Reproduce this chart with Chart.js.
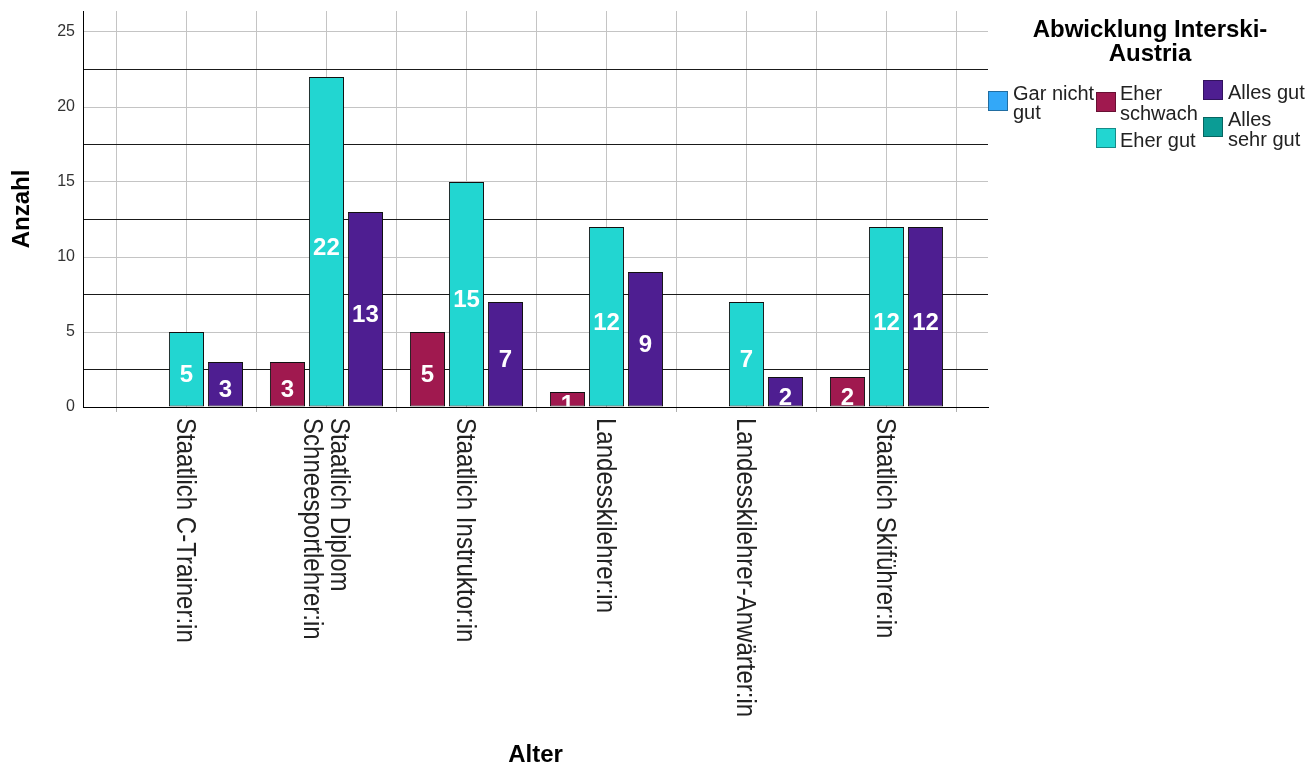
<!doctype html>
<html lang="de">
<head>
  <meta charset="utf-8">
  <title>Abwicklung Interski-Austria nach Ausbildung</title>
  <script src="https://cdn.jsdelivr.net/npm/chart.js@4.4.1/dist/chart.umd.min.js"></script>
  <style>
    html,body{margin:0;padding:0;background:#fff;}
    canvas{display:block;}
  </style>
</head>
<body>
  <canvas id="chart" width="1309" height="770"></canvas>

  <script>
    /* ─── data ─── */
    const CATEGORIES = [
      ['Staatlich C-Trainer:in'],
      ['Staatlich Diplom', 'Schneesportlehrer:in'],
      ['Staatlich Instruktor:in'],
      ['Landesskilehrer:in'],
      ['Landesskilehrer-Anwärter:in'],
      ['Staatlich Skiführer:in']
    ];
    const SERIES_NAMES   = ['Gar nicht gut', 'Eher schwach', 'Eher gut', 'Alles gut', 'Alles sehr gut'];
    const LEGEND_LINES   = [['Gar nicht', 'gut'], ['Eher', 'schwach'], ['Eher gut'], ['Alles gut'], ['Alles', 'sehr gut']];
    const GAR_NICHT_GUT  = [null, null, null, null, null, null];
    const EHER_SCHWACH   = [null, 3, 5, 1, null, 2];
    const EHER_GUT       = [5, 22, 15, 12, 7, 12];
    const ALLES_GUT      = [3, 13, 7, 9, 2, 12];
    const ALLES_SEHR_GUT = [null, null, null, null, null, null];
    const Y_TICKS        = [0, 2.5, 5, 7.5, 10, 12.5, 15, 17.5, 20, 22.5, 25];

    /* ─── style ─── */
    const FONT   = '"Liberation Sans", Arial, sans-serif';
    const COLORS = ['#33A8F8', '#A0194F', '#22D6D1', '#4E1E91', '#0B9C95'];
    const VALUES = [GAR_NICHT_GUT, EHER_SCHWACH, EHER_GUT, ALLES_GUT, ALLES_SEHR_GUT];

    /* legend slots: swatch x/y, text x, baseline of first line, line step */
    const LEGEND_SLOTS = [
      {sx: 988,  sy: 91,  tx: 1013, ty: 100, step: 19},
      {sx: 1096, sy: 92,  tx: 1120, ty: 100, step: 20},
      {sx: 1096, sy: 128, tx: 1120, ty: 147, step: 20},
      {sx: 1203, sy: 80,  tx: 1228, ty: 99,  step: 20},
      {sx: 1203, sy: 117, tx: 1228, ty: 126, step: 20}
    ];

    // white value labels, clipped to the bar
    const barLabels = {
      id: 'barLabels',
      afterDatasetsDraw(chart) {
        const {ctx} = chart;
        ctx.save();
        ctx.font = `bold 24px ${FONT}`;
        ctx.fillStyle = '#fff';
        ctx.textAlign = 'center';
        ctx.textBaseline = 'alphabetic';
        chart.data.datasets.forEach((ds, di) => {
          if (!chart.isDatasetVisible(di)) return;
          chart.getDatasetMeta(di).data.forEach((bar, i) => {
            const v = ds.data[i].y;
            if (v == null) return;
            const {x, y, base, width} = bar.getProps(['x', 'y', 'base', 'width'], true);
            ctx.save();
            ctx.beginPath();
            ctx.rect(x - width / 2, y, width, base - y);
            ctx.clip();
            ctx.fillText(String(v), x, (y + base) / 2 + 13);
            ctx.restore();
          });
        });
        ctx.restore();
      }
    };

    // category names, turned to read downwards
    const catLabels = {
      id: 'catLabels',
      afterDraw(chart) {
        const {ctx, chartArea, scales: {x}} = chart;
        ctx.save();
        ctx.font = `27px ${FONT}`;
        ctx.fillStyle = '#222';
        ctx.textAlign = 'left';
        ctx.textBaseline = 'middle';
        CATEGORIES.forEach((lines, i) => {
          ctx.save();
          ctx.translate(x.getPixelForValue(i) - 2, chartArea.bottom + 11);
          ctx.rotate(Math.PI / 2);
          ctx.scale(0.89, 1);
          lines.forEach((t, j) => ctx.fillText(t, 0, (j - (lines.length - 1) / 2) * 27));
          ctx.restore();
        });
        ctx.restore();
      }
    };

    // SPSS-style legend at the right
    const sideLegend = {
      id: 'sideLegend',
      afterDraw(chart) {
        const {ctx} = chart;
        ctx.save();
        ctx.fillStyle = '#000';
        ctx.textAlign = 'center';
        ctx.font = `bold 24px ${FONT}`;
        ctx.fillText('Abwicklung Interski-', 1150, 37);
        ctx.fillText('Austria', 1150, 61);

        ctx.textAlign = 'left';
        ctx.font = `20px ${FONT}`;
        chart.data.datasets.forEach((ds, i) => {
          const s = LEGEND_SLOTS[i];
          ctx.fillStyle = ds.backgroundColor;
          ctx.fillRect(s.sx, s.sy, 20, 20);
          ctx.strokeStyle = 'rgba(0,0,0,0.35)';
          ctx.lineWidth = 1;
          ctx.strokeRect(s.sx + 0.5, s.sy + 0.5, 19, 19);
          ctx.fillStyle = '#222';
          LEGEND_LINES[i].forEach((t, j) => ctx.fillText(t, s.tx, s.ty + j * s.step));
        });
        ctx.restore();
      }
    };

    const datasets = SERIES_NAMES.map((name, k) => ({
      label: name,
      data: VALUES[k].map((v, i) => ({x: i, y: v})),
      backgroundColor: COLORS[k],
      borderColor: '#111',
      borderWidth: 1,
      borderSkipped: false,
      hidden: VALUES[k].every(v => v == null),   // empty categories get no slot
      barPercentage: 0.9,
      categoryPercentage: 1.6714                // min sample size is the half-step grid (70px)
    }));

    new Chart(document.getElementById('chart'), {
      type: 'bar',
      data: {datasets},
      options: {
        responsive: false,
        animation: false,
        layout: {padding: {top: 11, right: 321, left: 0, bottom: 0}},
        plugins: {legend: {display: false}, tooltip: {enabled: false}},
        scales: {
          x: {
            type: 'linear',
            offset: false,
            min: -0.739,
            max: 5.725,
            afterBuildTicks: s => {
              const t = [];
              for (let v = -0.5; v <= 5.5; v += 0.5) t.push({value: v});
              s.ticks = t;
            },
            afterFit: s => {
              s.height = 363;
              s.paddingLeft = s.paddingRight = 0;
            },
            ticks: {display: false},
            grid: {
              offset: false,
              color: '#c4c4c4',
              tickLength: 5,
              tickColor: c => (c.tick && Math.abs(c.tick.value % 1) === 0.5) ? '#b0b0b0' : 'rgba(0,0,0,0)'
            },
            border: {color: '#000', width: 1},
            title: {
              display: true, text: 'Alter', color: '#000',
              font: {family: FONT, size: 24, weight: 'bold'},
              padding: {top: 0, bottom: 0}
            }
          },
          y: {
            min: 0,
            max: 26.4,
            afterBuildTicks: s => { s.ticks = Y_TICKS.map(v => ({value: v})); },
            afterFit: s => {
              s.width = 83;
              s.paddingTop = s.paddingBottom = 0;
            },
            ticks: {
              font: {family: FONT, size: 16},
              color: '#333',
              padding: 8,
              autoSkip: false,
              callback: v => (v % 5 === 0 ? v : '')
            },
            grid: {
              drawTicks: false,
              color: c => (c.tick && c.tick.value % 5 !== 0) ? '#1a1a1a' : '#c4c4c4'
            },
            border: {color: '#000', width: 1},
            title: {
              display: true, text: 'Anzahl', color: '#000',
              font: {family: FONT, size: 24, weight: 'bold'},
              padding: {top: 8, bottom: 0}
            }
          }
        }
      },
      plugins: [barLabels, catLabels, sideLegend]
    });
  </script>
</body>
</html>
